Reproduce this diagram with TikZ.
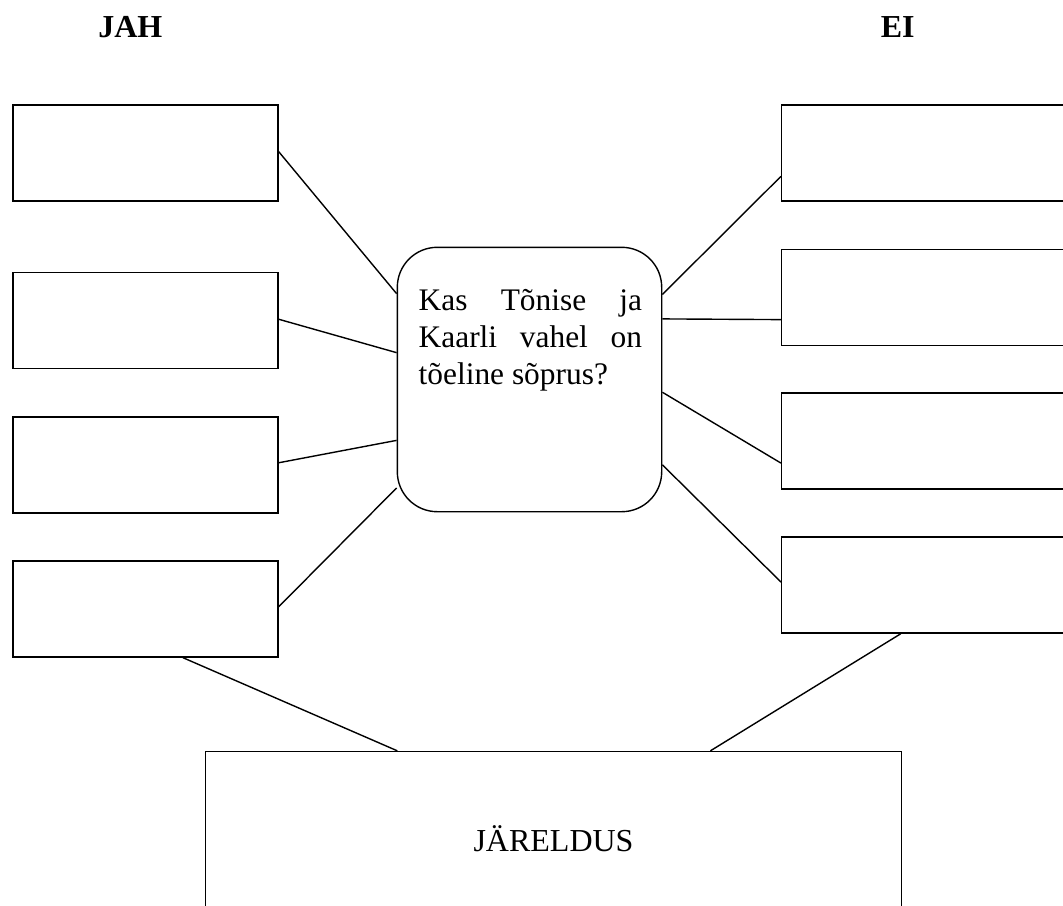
\documentclass[tikz,border=0pt]{standalone}
\usepackage{fontspec}
\setmainfont{Liberation Serif}
\usetikzlibrary{calc}
\begin{document}
\begin{tikzpicture}[x=0.5pt,y=-0.5pt,
  lbox/.style={draw, line width=0.7pt, rectangle, inner sep=0pt, minimum width=132.5pt, minimum height=48pt},
  rbox/.style={lbox, minimum width=150pt},
  qbox/.style={draw, line width=0.7pt, rounded corners=20pt, inner sep=0pt, minimum width=132.2pt, minimum height=132.2pt},
  conn/.style={line width=0.7pt},
  head/.style={anchor=base west, inner sep=0pt, font=\fontsize{16}{19}\selectfont\bfseries}]
\useasboundingbox (0,0) rectangle (1063,905);
\clip (0,0) rectangle (1063,905);

\node[head] (jah) at (97.9,37) {JAH};
\node[head] (ei) at (880.4,37) {EI};

\node[lbox] (L1) at (145.5,153) {};
\node[lbox] (L2) at (145.5,320.7) {};
\node[lbox] (L3) at (145.5,464.9) {};
\node[lbox] (L4) at (145.5,608.9) {};

\node[rbox] (R1) at (931.7,152.9) {};
\node[rbox] (R2) at (931.7,297.2) {};
\node[rbox] (R3) at (931.7,441) {};
\node[rbox] (R4) at (931.7,585) {};

\node[qbox] (C) at (529.5,379.5) {};
\node[anchor=base west, inner sep=0pt, align=left, font=\fontsize{15.7}{18.6}\selectfont] (Q) at (418.3,384.5)
  {\makebox[111.7pt][s]{Kas Tõnise ja}\\\makebox[111.7pt][s]{Kaarli vahel on}\\tõeline sõprus?};

\node[draw, line width=0.7pt, inner sep=0pt, minimum width=348pt, minimum height=87pt, font=\fontsize{16}{19}\selectfont] (B) at (553.5,838.5) {JÄRELDUS};

\draw[conn] ($(L1.north east)!0.486!(L1.south east)$) -- ($(C.north west)!0.177!(C.south west)$);
\draw[conn] ($(L2.north east)!0.485!(L2.south east)$) -- ($(C.north west)!0.399!(C.south west)$);
\draw[conn] ($(L3.north east)!0.478!(L3.south east)$) -- ($(C.north west)!0.729!(C.south west)$);
\draw[conn] ($(L4.north east)!0.478!(L4.south east)$) -- ($(C.north west)!0.908!(C.south west)$);

\draw[conn] ($(C.north east)!0.18!(C.south east)$) -- ($(R1.north west)!0.74!(R1.south west)$);
\draw[conn] ($(C.north east)!0.272!(C.south east)$) -- ($(R2.north west)!0.73!(R2.south west)$);
\draw[conn] ($(C.north east)!0.548!(C.south east)$) -- ($(R3.north west)!0.727!(R3.south west)$);
\draw[conn] ($(C.north east)!0.821!(C.south east)$) -- ($(R4.north west)!0.47!(R4.south west)$);

\draw[conn] ($(L4.south west)!0.64!(L4.south east)$) -- ($(B.north west)!0.276!(B.north east)$);
\draw[conn] ($(R4.south west)+(119.8,0)$) -- ($(B.north west)!0.725!(B.north east)$);
\end{tikzpicture}
\end{document}
